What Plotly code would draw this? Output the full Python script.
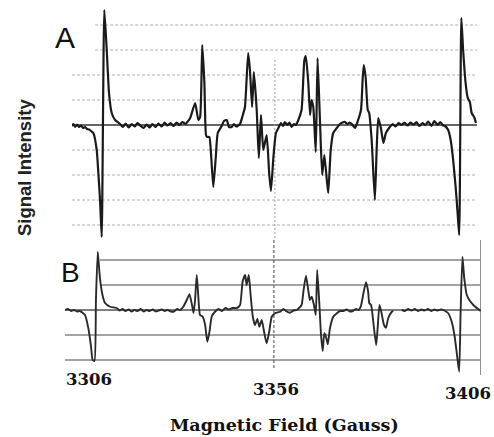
import plotly.graph_objects as go

# ---------------- data ----------------
# Panel A: field in Gauss, signal in grid units (one unit = one grid spacing)
A_FIELD = [3296.9, 3297.4, 3297.9, 3298.4, 3299.0, 3299.5, 3300.1, 3300.7, 3301.2, 3301.8,
           3302.35, 3303.0, 3303.95, 3304.4, 3304.88, 3305.35, 3306.08, 3306.76, 3307.4, 3308.16,
           3309.1, 3310.5, 3311.3, 3312.1, 3312.9, 3313.8, 3314.6, 3315.4, 3316.3, 3317.1,
           3318.0, 3318.8, 3319.6, 3320.5, 3321.3, 3322.2, 3323.0, 3323.8, 3324.7, 3325.5,
           3326.4, 3327.2, 3328.0, 3328.9, 3330.2, 3331.6, 3332.5, 3333.0, 3333.6, 3334.2,
           3334.65, 3335.0, 3335.6, 3336.05, 3336.7, 3337.4, 3337.95, 3339.05, 3339.7, 3340.5,
           3341.1, 3341.9, 3342.5, 3343.2, 3344.2, 3345.0, 3345.6, 3346.5, 3347.0, 3347.6,
           3348.1, 3348.9, 3349.5, 3350.1, 3350.75, 3351.7, 3352.4, 3352.9, 3353.6, 3354.3,
           3355.0, 3355.7, 3356.3, 3356.8, 3357.5, 3358.1, 3358.7, 3359.4, 3359.9, 3360.6,
           3361.5, 3362.3, 3362.7, 3363.4, 3363.9, 3364.3, 3364.8, 3365.5, 3366.0, 3366.7,
           3367.3, 3367.9, 3368.6, 3369.0, 3369.7, 3370.4, 3371.4, 3372.3, 3373.0, 3373.7,
           3374.4, 3375.0, 3375.6, 3376.5, 3377.4, 3378.2, 3378.7, 3379.0, 3379.5, 3380.1,
           3380.5, 3381.2, 3382.1, 3382.6, 3383.05, 3383.8, 3384.5, 3385.2, 3386.3, 3387.1,
           3387.9, 3388.8, 3389.6, 3390.4, 3391.3, 3392.1, 3393.0, 3393.8, 3394.6, 3395.5,
           3396.3, 3397.1, 3398.0, 3398.8, 3399.7, 3400.5, 3401.3, 3401.8, 3402.7, 3403.4,
           3404.1, 3404.8, 3405.35, 3405.8, 3406.4, 3406.9, 3407.6, 3408.2, 3408.8, 3409.3,
           3410.0, 3410.5]
A_SIGNAL = [-0.04, 0.04, -0.08, 0.02, -0.08, -0.02, -0.12, -0.08, -0.16, -0.18,
            -0.24, -0.32, -1.0, -1.92, -3.0, -4.48, 4.6, 3.0, 1.28, 0.48,
            0.2, 0.04, -0.08, 0.06, -0.1, 0.04, -0.06, 0.08, -0.04, -0.12,
            0.02, -0.1, 0.04, -0.08, 0.06, -0.06, 0.1, -0.02, 0.08, -0.04,
            0.1, 0.0, 0.12, 0.04, 0.28, 0.88, 0.2, 0.32, 3.2, 1.68,
            -0.4, -0.48, -0.48, -1.12, -2.48, -1.28, -0.32, -0.04, 0.16, 0.2,
            -0.08, -0.08, 0.04, -0.06, 0.04, 0.4, 0.72, 2.88, 2.2, 0.72,
            2.12, 0.6, -1.32, 0.4, -1.0, -0.4, -1.92, -2.64, -1.28, -0.32,
            -0.12, 0.08, -0.04, 0.12, 0.0, 0.1, -0.08, 0.04, 0.0, 0.2,
            0.6, 2.6, 2.76, 1.68, 0.4, 1.0, 0.72, -1.08, 2.68, 0.08,
            -2.0, -1.2, -2.2, -2.72, -1.0, -0.32, -0.12, 0.04, 0.1, 0.12,
            0.04, 0.1, 0.04, -0.12, 0.2, 0.6, 1.92, 2.4, 1.92, 0.6,
            0.48, -0.6, -3.0, -1.0, 0.28, -0.12, -0.72, -0.32, -0.08, 0.04,
            -0.06, 0.08, 0.0, 0.1, -0.02, 0.1, 0.02, 0.12, -0.04, 0.08,
            0.0, 0.14, -0.04, 0.16, 0.0, 0.12, -0.02, -0.04, -0.2, -0.6,
            -1.4, -2.48, -3.52, -4.4, 4.28, 3.0, 1.68, 1.08, 0.92, 0.48,
            0.32, 0.08]

# Panel B (None = break in the recorded trace)
B_FIELD = [3297.0, 3297.8, 3298.7, 3299.5, 3300.3, 3301.1, 3302.5, 3303.4, 3304.1, 3304.6,
           3305.1, 3305.5, 3306.0, 3306.6, 3307.3, 3308.0, 3309.4, 3311.2, 3312.0, 3312.8,
           3313.6, 3314.5, 3315.3, 3316.1, 3317.0, 3317.8, 3318.6, 3319.4, 3320.3, 3321.1,
           3321.9, 3322.7, 3323.6, 3324.4, 3325.2, 3326.1, 3326.8, 3327.8, 3328.6, 3329.5,
           3330.45, 3331.2, 3331.9, 3332.3, 3332.7, 3333.2, 3333.6, 3334.1, 3334.85, 3335.5,
           3336.1, 3336.7, 3337.3, 3338.2, 3339.2, 3340.1, 3341.1, 3342.1, 3343.0, 3344.2,
           3345.1, 3345.8, 3346.5, 3346.9, 3347.5, 3348.0, 3348.6, 3349.2, 3349.85, 3350.4,
           3351.05, 3351.7, 3352.4, 3353.1, 3353.8, 3354.7, 3356.1, 3357.0, 3357.9, 3358.8,
           3359.8, 3360.7, 3362.0, 3362.5, 3363.2, 3363.9, 3364.3, 3364.8, 3365.4, 3365.9,
           3366.3, 3366.9, 3367.35, 3367.8, 3368.25, 3368.7, 3369.2, 3369.8, 3370.7, 3371.7,
           3372.6, 3373.5, 3374.35, 3375.3, 3376.2, 3377.0, 3377.6, 3378.25, 3379.0, 3379.7,
           3380.3, 3380.6, 3381.1, 3381.7, 3382.5, 3382.9, 3383.4, 3383.9, 3384.65, 3385.2,
           3385.8, 3386.8, 3387.2, None, 3389.5, 3390.4, 3391.3, 3392.2, 3393.1, 3394.0,
           3394.9, 3395.8, 3396.7, 3397.6, 3398.5, 3399.4, 3400.3, 3400.95, 3402.3, 3403.25,
           3404.0, 3404.6, 3405.3, 3405.7, 3406.2, 3406.7, 3407.4, 3408.1, 3409.2, 3410.6,
           3411.2]
B_SIGNAL = [0.0, 0.04, -0.04, 0.0, -0.06, -0.04, -0.2, -0.72, -1.4, -2.0,
            -2.04, 0.4, 2.33, 1.28, 0.6, 0.28, 0.13, 0.08, -0.02, 0.04,
            -0.04, 0.02, -0.06, 0.0, -0.04, 0.04, -0.06, 0.0, -0.04, 0.02,
            -0.06, -0.02, 0.02, -0.04, 0.0, -0.06, -0.07, 0.04, 0.0, 0.13,
            0.4, 0.63, 0.2, -0.12, 0.33, 1.4, 0.6, -0.2, -0.27, -0.6,
            -1.27, -0.87, -0.27, -0.07, 0.04, -0.04, 0.08, 0.02, 0.08, 0.08,
            0.2, 1.13, 1.4, 1.0, 1.4, 0.6, -0.27, -0.6, -0.36, -0.67,
            -0.4, -0.87, -1.33, -0.87, -0.27, -0.13, -0.07, 0.04, -0.06, -0.11,
            -0.02, 0.0, 0.2, 0.73, 1.37, 0.73, 0.4, 0.53, 0.2, -0.2,
            1.6, 0.2, -1.0, -1.64, -0.93, -1.07, -1.37, -0.73, -0.27, -0.13,
            -0.04, -0.04, 0.02, -0.06, -0.03, 0.04, 0.0, 0.13, 0.67, 1.11,
            0.73, 0.27, 0.2, -0.47, -1.4, -0.73, 0.2, -0.07, -0.6, -0.71,
            -0.33, -0.07, -0.03, None, 0.0, -0.04, 0.04, -0.02, 0.04, -0.04,
            0.02, -0.02, 0.04, -0.04, 0.02, -0.02, 0.02, 0.0, -0.13, -0.47,
            -1.0, -1.67, -2.47, -0.07, 2.13, 1.27, 0.6, 0.4, 0.2, 0.03,
            -0.04]

A_GRID = [-4, -3, -2, -1, 1, 2, 3, 4]
B_GRID = [-2, -1, 1, 2]
TICK_VALUES = [3306, 3356, 3406]
TICK_LABELS = ["3306", "3356", "3406"]
X_TITLE = "Magnetic Field (Gauss)"
Y_TITLE = "Signal Intensity"

W, H = 494, 437

fig = go.Figure()
fig.add_trace(go.Scatter(x=A_FIELD, y=A_SIGNAL, mode="lines", xaxis="x", yaxis="y",
                         line=dict(color="#1a1a1a", width=2.2, shape="spline", smoothing=0.5),
                         showlegend=False, hoverinfo="skip", connectgaps=False))
fig.add_trace(go.Scatter(x=B_FIELD, y=B_SIGNAL, mode="lines", xaxis="x2", yaxis="y2",
                         line=dict(color="#2a2a2a", width=1.9, shape="spline", smoothing=0.5),
                         showlegend=False, hoverinfo="skip", connectgaps=False))

A_X = [3297.0, 3410.8]
B_X = [3297.0, 3411.3]

shapes = []
# panel A grid (faint dotted) and baseline
for g in A_GRID:
    x0 = 3303.5 if g >= 3 else A_X[0]
    shapes.append(dict(type="line", xref="x", yref="y", x0=x0, x1=A_X[1], y0=g, y1=g,
                       line=dict(color="#b0b0b0", width=1, dash="3px,2px"), layer="below"))
shapes.append(dict(type="line", xref="x", yref="y", x0=A_X[0], x1=A_X[1], y0=0, y1=0,
                   line=dict(color="#333333", width=1.5), layer="below"))
shapes.append(dict(type="line", xref="x", yref="y", x0=3354.0, x1=3354.0, y0=2.6, y1=-4.8,
                   line=dict(color="#a0a0a0", width=1, dash="2px,2px"), layer="below"))
# panel B grid (solid gray) and baseline
for g in B_GRID:
    x0 = 3306.6 if g >= 1 else B_X[0]
    shapes.append(dict(type="line", xref="x2", yref="y2", x0=x0, x1=B_X[1], y0=g, y1=g,
                       line=dict(color="#858585", width=1.6), layer="below"))
shapes.append(dict(type="line", xref="x2", yref="y2", x0=B_X[0], x1=B_X[1], y0=0, y1=0,
                   line=dict(color="#555555", width=1.6), layer="below"))
shapes.append(dict(type="line", xref="x2", yref="y2", x0=3354.4, x1=3354.4, y0=2.8, y1=-2.4,
                   line=dict(color="#666666", width=1.2, dash="3px,2px"), layer="below"))
shapes.append(dict(type="line", xref="x2", yref="y2", x0=3411.2, x1=3411.2, y0=2.8, y1=-2.6,
                   line=dict(color="#8a8a8a", width=1.2), layer="below"))

annotations = [
    dict(text="A", x=65 / W, y=1 - 38 / H, xref="paper", yref="paper", showarrow=False,
         xanchor="center", yanchor="middle",
         font=dict(family="Liberation Sans, Arial", size=30, color="#111")),
    dict(text="B", x=70 / W, y=1 - 272 / H, xref="paper", yref="paper", showarrow=False,
         xanchor="center", yanchor="middle",
         font=dict(family="Liberation Sans, Arial", size=28, color="#111")),
    dict(text="<b>%s</b>" % Y_TITLE, x=24 / W, y=1 - 168 / H, xref="paper", yref="paper",
         showarrow=False, textangle=-90, xanchor="center", yanchor="middle",
         font=dict(family="Liberation Sans, Arial", size=18.5, color="#222")),
    dict(text="<b>%s</b>" % X_TITLE, x=284 / W, y=1 - 425 / H, xref="paper", yref="paper",
         showarrow=False, xanchor="center", yanchor="middle",
         font=dict(family="DejaVu Serif", size=17.5, color="#111")),
]
tick_shift = [-8.7, -3.7, 6.3]
tick_y = [379, 389, 393]
for v, lab, dx, py in zip(TICK_VALUES, TICK_LABELS, tick_shift, tick_y):
    annotations.append(dict(text="<b>%s</b>" % lab, x=v, xref="x2", y=1 - py / H, yref="paper",
                            xshift=dx, showarrow=False, xanchor="center", yanchor="middle",
                            font=dict(family="DejaVu Serif", size=16.5, color="#111")))

fig.update_layout(
    width=W, height=H, margin=dict(l=0, r=0, t=0, b=0),
    paper_bgcolor="white", plot_bgcolor="white",
    xaxis=dict(domain=[72 / W, 477 / W], range=A_X, visible=False, fixedrange=True),
    yaxis=dict(domain=[1 - 245 / H, 1 - 2 / H], range=[-4.8, 4.92], visible=False,
               fixedrange=True),
    xaxis2=dict(domain=[65 / W, 481 / W], range=B_X, visible=False, anchor="y2",
                fixedrange=True),
    yaxis2=dict(domain=[1 - 375 / H, 1 - 238 / H], range=[-2.6, 2.88], visible=False,
                anchor="x2", fixedrange=True),
    shapes=shapes, annotations=annotations,
)

fig.write_html("out.html", config={"displayModeBar": False},
               post_script="document.body.style.margin='0';document.body.style.overflow='hidden';")
